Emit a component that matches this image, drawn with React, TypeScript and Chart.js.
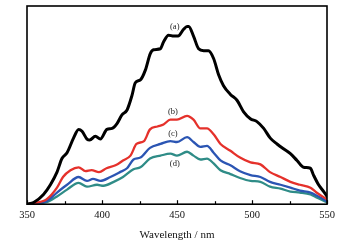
import React, { useEffect, useRef } from "react";
import { Chart, registerables } from "chart.js";

Chart.register(...registerables);

const wavelengthA = [350, 354.4, 361, 365.6, 370, 373.3, 376.7, 381, 384.4, 386.7, 390, 391.8, 395.6, 398.9, 403.3, 406.7, 410, 413.3, 416.7, 420, 422.2, 425.6, 428.9, 432.2, 434.4, 438.9, 441, 444.4, 447.8, 450.7, 454.4, 456.7, 457.8, 461, 464.4, 467.8, 471, 474.4, 477.8, 481, 485.6, 490, 494.4, 498.9, 503.3, 507.8, 512.2, 516.7, 521, 525.6, 530, 534.4, 538.9, 541, 544.4, 547.8, 550];
const intensityA = [0, 1.7, 10, 20, 33, 47, 53, 68, 77, 75, 67, 66, 70, 67, 77, 78, 83, 92, 97, 112, 125, 128, 138, 155, 159, 160, 167, 174, 173, 173, 180, 183, 183, 173, 160, 158, 158, 150, 133, 122, 113, 107, 95, 88, 85, 78, 68, 62, 57, 52, 45, 38, 37, 30, 20, 13, 8];

const wavelengthB = [350, 354, 363, 370, 374, 379, 384.4, 389, 393, 398, 403, 409, 414, 419, 423, 428, 432, 437, 441, 445.6, 450, 456.7, 461, 465.6, 470, 474.4, 479, 485.6, 492, 499, 505.6, 512, 519, 525.6, 532, 539, 543, 550];
const intensityB = [0, 1, 5, 17, 28, 35, 38, 34, 35, 33, 37, 40, 45, 50, 62, 65, 77, 80, 82, 87, 87, 91, 87, 78, 78, 72, 62, 55, 48, 43, 41, 33, 28, 23, 20, 17, 12, 5];

const wavelengthC = [350, 355, 363, 370, 376.7, 384.4, 390, 394, 399, 405.6, 412, 416.7, 421, 425.6, 432, 439, 445.6, 450, 456.7, 461, 465.6, 470, 474.4, 479, 485.6, 492, 499, 505.6, 512, 519, 525.6, 532, 539, 543, 550];
const intensityC = [0, 0.8, 3, 12, 20, 28, 24, 26, 24, 28, 33, 37, 46, 48, 58, 62, 65, 64, 69, 64, 59, 60, 53, 45, 40, 34, 30, 28, 23, 20, 17, 14, 12, 9, 3];

const wavelengthD = [350, 355, 363, 370, 376.7, 384.4, 390, 396.7, 401, 407.8, 414, 421, 425.6, 432, 439, 445.6, 450, 456.7, 461, 465.6, 470, 474.4, 479, 485.6, 492, 499, 505.6, 512, 519, 525.6, 532, 539, 543, 550];
const intensityD = [0, 0.6, 2, 8, 15, 22, 18, 20, 19, 23, 28, 36, 38, 47, 50, 52, 50, 54, 50, 46, 47, 42, 35, 31, 27, 24, 23, 18, 16, 13, 12, 10, 7, 2];

const seriesLabels = ["(a)", "(b)", "(c)", "(d)"];
const labelWavelengths = [448.5, 447.3, 447.3, 448.5];
const labelIntensities = [183, 95, 72, 42];
const xTickValues = [350, 400, 450, 500, 550];

const colors = ["#000000", "#e5312b", "#2b55b3", "#2f8c87"];
const widths = [3, 2.3, 2.3, 2.3];

const zip = (xs: number[], ys: number[]) => xs.map((x, i) => ({ x, y: ys[i] }));

const framePlugin = {
  id: "frame",
  afterDatasetsDraw(chart: any) {
    const { ctx, chartArea } = chart;
    const xs = chart.scales.x;
    const ys = chart.scales.y;
    ctx.save();
    ctx.strokeStyle = "#000";
    ctx.lineWidth = 1.6;
    ctx.strokeRect(chartArea.left, chartArea.top, chartArea.right - chartArea.left, chartArea.bottom - chartArea.top);
    ctx.lineWidth = 1.2;
    for (let v = 350; v <= 550; v += 25) {
      const px = Math.round(xs.getPixelForValue(v)) + 0.5;
      const len = v % 50 === 0 ? 4 : 3;
      ctx.beginPath();
      ctx.moveTo(px, chartArea.bottom);
      ctx.lineTo(px, chartArea.bottom - len);
      ctx.stroke();
    }
    ctx.fillStyle = "#222";
    ctx.font = "8.5px 'Liberation Serif', serif";
    ctx.textAlign = "center";
    ctx.textBaseline = "middle";
    seriesLabels.forEach((t, i) => {
      ctx.fillText(t, xs.getPixelForValue(labelWavelengths[i]), ys.getPixelForValue(labelIntensities[i]));
    });
    ctx.restore();
  },
};

export default function App() {
  const ref = useRef<HTMLCanvasElement | null>(null);
  useEffect(() => {
    const series = [
      zip(wavelengthA, intensityA),
      zip(wavelengthB, intensityB),
      zip(wavelengthC, intensityC),
      zip(wavelengthD, intensityD),
    ];
    const chart = new Chart(ref.current as HTMLCanvasElement, {
      type: "line",
      data: {
        datasets: series.map((d, i) => ({
          data: d,
          borderColor: colors[i],
          borderWidth: widths[i],
          pointRadius: 0,
          cubicInterpolationMode: "monotone",
          borderJoinStyle: "round",
          borderCapStyle: "round",
          fill: false,
        })),
      },
      options: {
        animation: false,
        responsive: false,
        devicePixelRatio: 1,
        layout: { padding: { left: 27, right: 20, top: 6, bottom: 0 } },
        plugins: { legend: { display: false }, tooltip: { enabled: false } },
        scales: {
          x: {
            type: "linear",
            min: 350,
            max: 550,
            afterBuildTicks: (axis: any) => {
              axis.ticks = xTickValues.map((v) => ({ value: v }));
            },
            grid: { display: false, drawTicks: false },
            border: { display: false },
            ticks: {
              color: "#111",
              padding: 5,
              maxRotation: 0,
              font: { family: "'Liberation Serif', serif", size: 10.5 },
            },
            title: {
              display: true,
              text: "Wavelength / nm",
              color: "#111",
              padding: { top: 2, bottom: 3 },
              font: { family: "'Liberation Serif', serif", size: 11 },
            },
          },
          y: { display: false, min: 0, max: 204 },
        },
      },
      plugins: [framePlugin],
    } as any);
    return () => chart.destroy();
  }, []);
  return (
    <div style={{ position: "absolute", left: 0, top: 0, width: 347, height: 245, background: "#fff" }}>
      <canvas ref={ref} width={347} height={245} style={{ width: 347, height: 245 }} />
    </div>
  );
}
